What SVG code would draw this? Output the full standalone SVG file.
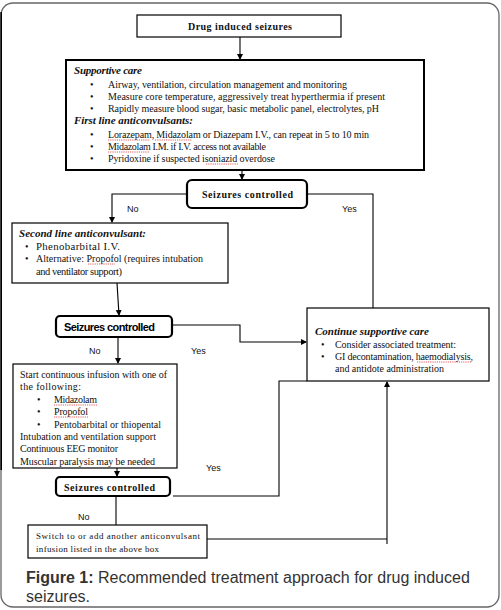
<svg xmlns="http://www.w3.org/2000/svg" width="501" height="610" viewBox="0 0 501 610">
<style>
.box{fill:#fff;stroke:#000;stroke-width:1.2}
.thick{fill:#fff;stroke:#000;stroke-width:2}
.dec{fill:#fff;stroke:#000;stroke-width:2.2}
.ln{fill:none;stroke:#000;stroke-width:1.1}
.t{font-family:"Liberation Serif","DejaVu Serif",serif;font-size:10px;fill:#111}
.s{font-size:9px}
.b{font-weight:bold}
.bi{font-weight:bold;font-style:italic;font-size:11px}
.dsans{font-family:"Liberation Sans",Arial,sans-serif;font-weight:bold;font-size:11px;fill:#000}
.lbl{font-family:"Liberation Sans",Arial,sans-serif;font-size:9px;fill:#111}
.cap{font-family:"Liberation Sans",Arial,sans-serif;font-size:16px;fill:#333}
.sq{fill:none;stroke:#e03030;stroke-width:0.8;stroke-dasharray:1.2 1}
</style>
<defs>
<marker id="ah" markerWidth="6" markerHeight="6" refX="5" refY="3" orient="auto" markerUnits="userSpaceOnUse">
<path d="M0,0 L6,3 L0,6 Z" fill="#000"/>
</marker>
</defs>
<rect width="501" height="610" fill="#fff"/>
<rect x="1" y="3" width="498" height="604" rx="12" ry="12" fill="none" stroke="#666" stroke-width="1.3"/>
<line x1="1.2" y1="12" x2="1.2" y2="470" stroke="#000" stroke-width="1.6"/>

<g id="connectors">
<line class="ln" x1="240" y1="37" x2="240" y2="59" marker-end="url(#ah)"/>
<line class="ln" x1="242" y1="170" x2="242" y2="179" marker-end="url(#ah)"/>
<polyline class="ln" points="187,194 112,194 112,222" marker-end="url(#ah)"/>
<polyline class="ln" points="307,194 373,194 373,308"/>
<line class="ln" x1="117" y1="283" x2="119" y2="315" marker-end="url(#ah)"/>
<polyline class="ln" points="172,325 240,325 240,342 306,342" marker-end="url(#ah)"/>
<line class="ln" x1="118" y1="337" x2="118" y2="363" marker-end="url(#ah)"/>
<line class="ln" x1="117" y1="468" x2="117" y2="476" marker-end="url(#ah)"/>
<polyline class="ln" points="173,496 279,496 279,381 307,381"/>
<line class="ln" x1="116" y1="496" x2="116" y2="525"/>
<polyline class="ln" points="207,539 387,539"/>
<line class="ln" x1="387" y1="544" x2="387" y2="382" marker-end="url(#ah)"/>
<text class="lbl" x="127" y="212">No</text>
<text class="lbl" x="342" y="212">Yes</text>
<text class="lbl" x="89" y="354">No</text>
<text class="lbl" x="191" y="354">Yes</text>
<text class="lbl" x="206" y="471">Yes</text>
<text class="lbl" x="78" y="520">No</text>
</g>

<g id="start">
<rect class="box" x="137" y="15" width="204" height="22" stroke-width="1.5"/>
<text class="t b" x="188" y="30" font-size="10.5" textLength="104" lengthAdjust="spacing">Drug induced seizures</text>
</g>

<g id="supportive">
<rect class="thick" x="66" y="60" width="358" height="110"/>
<text class="t bi" x="74" y="74" textLength="68" lengthAdjust="spacing">Supportive care</text>
<g class="t" font-size="10.3">
<text x="90" y="88">•</text><text x="108" y="88" textLength="239" lengthAdjust="spacing">Airway, ventilation, circulation management and monitoring</text>
<text x="90" y="100">•</text><text x="108" y="100" textLength="277" lengthAdjust="spacing">Measure core temperature, aggressively treat hyperthermia if present</text>
<text x="90" y="111.5">•</text><text x="108" y="111.5" textLength="271" lengthAdjust="spacing">Rapidly measure blood sugar, basic metabolic panel, electrolytes, pH</text>
</g>
<text class="t bi" x="74" y="124" textLength="119" lengthAdjust="spacing">First line anticonvulsants:</text>
<g class="t" font-size="10.3">
<text x="90" y="138">•</text><text x="108" y="138" textLength="261" lengthAdjust="spacing">Lorazepam, Midazolam or Diazepam I.V., can repeat in 5 to 10 min</text>
<text x="90" y="150">•</text><text x="108" y="150" textLength="158" lengthAdjust="spacing">Midazolam I.M. if I.V. access not available</text>
<text x="90" y="162">•</text><text x="108" y="162" textLength="167" lengthAdjust="spacing">Pyridoxine if suspected isoniazid overdose</text>
</g>
<path class="sq" d="M108,140 H150 M155,140 H192 M108,152 H150 M206,164 H238"/>
</g>

<g id="decision1">
<rect class="dec" x="187" y="180" width="120" height="28" rx="5"/>
<text class="t b" x="202" y="198" font-size="10.5" textLength="91" lengthAdjust="spacing">Seizures controlled</text>
</g>

<g id="second-line">
<rect class="box" x="12" y="223" width="216" height="60"/>
<text class="t bi" x="19" y="237" font-size="10" textLength="127" lengthAdjust="spacing">Second line anticonvulsant:</text>
<g class="t">
<text x="25" y="250">•</text><text x="36" y="250" font-size="10.8" textLength="84" lengthAdjust="spacing">Phenobarbital I.V.</text>
<text x="25" y="262">•</text><text x="36" y="262" textLength="167" lengthAdjust="spacing">Alternative: Propofol (requires intubation</text>
<text x="36" y="275" font-size="10.5" textLength="86" lengthAdjust="spacing">and ventilator support)</text>
</g>
<path class="sq" d="M88,264 H115"/>
</g>

<g id="decision2">
<rect class="dec" x="56" y="316" width="116" height="21" rx="4"/>
<text class="dsans" x="64" y="331" textLength="91" lengthAdjust="spacing">Seizures controlled</text>
</g>

<g id="continue">
<rect class="box" x="307" y="308" width="182" height="73"/>
<text class="t bi" x="315" y="335" textLength="114" lengthAdjust="spacing">Continue supportive care</text>
<g class="t">
<text x="321" y="347.5">•</text><text x="335" y="347.5" textLength="121" lengthAdjust="spacing">Consider associated treatment:</text>
<text x="321" y="360">•</text><text x="335" y="360" textLength="138" lengthAdjust="spacing">GI decontamination, haemodialysis,</text>
<text x="335" y="372" textLength="109" lengthAdjust="spacing">and antidote administration</text>
</g>
<path class="sq" d="M417,362 H472"/>
</g>

<g id="infusion">
<rect class="box" x="13" y="364" width="164" height="104"/>
<g class="t">
<text x="20" y="377.5" textLength="147" lengthAdjust="spacing">Start continuous infusion with one of</text>
<text x="20" y="390" textLength="61" lengthAdjust="spacing">the following:</text>
<text x="37" y="403">•</text><text x="54" y="403" textLength="43" lengthAdjust="spacing">Midazolam</text>
<text x="37" y="415">•</text><text x="54" y="415" textLength="34" lengthAdjust="spacing">Propofol</text>
<text x="37" y="427.5">•</text><text x="54" y="427.5" textLength="107" lengthAdjust="spacing">Pentobarbital or thiopental</text>
<text x="20" y="440" textLength="136" lengthAdjust="spacing">Intubation and ventilation support</text>
<text x="20" y="452" textLength="98" lengthAdjust="spacing">Continuous EEG monitor</text>
<text x="20" y="464.5" textLength="135" lengthAdjust="spacing">Muscular paralysis may be needed</text>
</g>
<path class="sq" d="M54,405 H97 M54,417 H88"/>
</g>

<g id="decision3">
<rect class="dec" x="56" y="477" width="114" height="19" rx="4"/>
<text class="t b" x="64" y="491" font-size="10.5" textLength="91" lengthAdjust="spacing">Seizures controlled</text>
</g>

<g id="switch">
<rect class="box" x="28" y="525" width="179" height="33"/>
<text class="t s" x="36" y="539" textLength="164" lengthAdjust="spacing">Switch to or add another anticonvulsant</text>
<text class="t s" x="36" y="552" textLength="123" lengthAdjust="spacing">infusion listed in the above box</text>
</g>

<g id="caption">
<text class="cap" x="26" y="583"><tspan font-weight="bold">Figure 1:</tspan> Recommended treatment approach for drug induced</text>
<text class="cap" x="26" y="602">seizures.</text>
</g>
</svg>
